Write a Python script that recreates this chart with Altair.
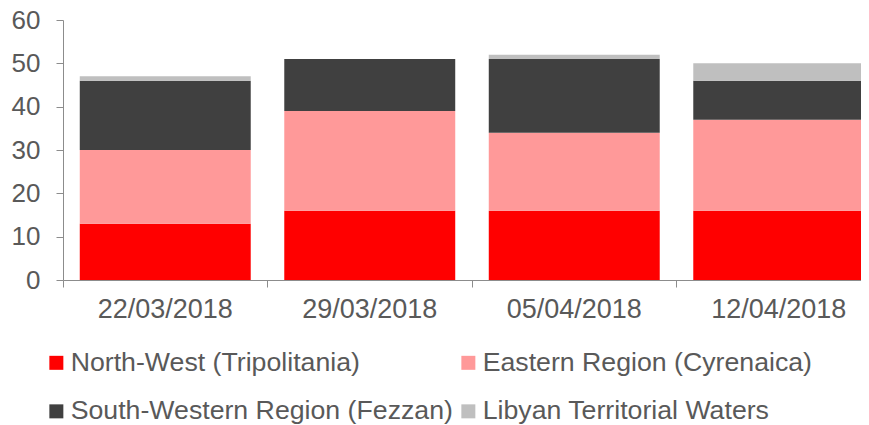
import altair as alt
import pandas as pd

dates = ["22/03/2018", "29/03/2018", "05/04/2018", "12/04/2018"]
series = ["North-West (Tripolitania)", "Eastern Region (Cyrenaica)",
          "South-Western Region (Fezzan)", "Libyan Territorial Waters"]
north_west = [13, 16, 16, 16]
eastern = [17, 23, 18, 21]
south_western = [16, 12, 17, 9]
waters = [1, 0, 1, 4]
colors = ["#FF0000", "#FF9999", "#404040", "#BFBFBF"]

rows = []
for i, d in enumerate(dates):
    for k, (s, vals) in enumerate(zip(series, [north_west, eastern, south_western, waters])):
        rows.append({"date": d, "series": s, "value": vals[i], "order": k})
df = pd.DataFrame(rows)

FONT = "Liberation Sans, Arial, Helvetica, sans-serif"
GRAY = "#595959"
AXIS = "#8C8C8C"
FS = 27

chart = alt.Chart(df).mark_bar().encode(
    x=alt.X("date:N", sort=dates, title=None,
            scale=alt.Scale(range=[0, 818], paddingInner=0.164, paddingOuter=0.082),
            axis=alt.Axis(labelAngle=0, bandPosition=-0.098, labelFont=FONT, labelFontSize=FS,
                          labelColor=GRAY, domainColor=AXIS, tickColor=AXIS, tickSize=7,
                          labelPadding=9, grid=False)),
    y=alt.Y("value:Q", stack="zero", title=None,
            scale=alt.Scale(domain=[0, 60], nice=False),
            axis=alt.Axis(values=[0, 10, 20, 30, 40, 50, 60], labelFont=FONT, labelFontSize=26,
                          labelColor=GRAY, domainColor=AXIS, tickColor=AXIS, tickSize=7,
                          labelPadding=16, grid=False)),
    color=alt.Color("series:N", scale=alt.Scale(domain=series, range=colors),
                    legend=alt.Legend(title=None, orient="none", legendX=-20, legendY=329,
                                      direction="horizontal", columns=2, columnPadding=2,
                                      rowPadding=21, symbolType="square", symbolSize=196,
                                      symbolStrokeWidth=0, labelFont=FONT, labelFontSize=26.7,
                                      labelColor=GRAY, labelLimit=600, labelOffset=1)),
    order=alt.Order("order:Q"),
).properties(
    width=798, height=260,
    autosize=alt.AutoSizeParams(type="none"),
    padding={"left": 55, "top": 12, "right": 0, "bottom": 145},
).configure_view(stroke=None)

chart.save("out.html", embed_options={"renderer": "svg", "actions": False})
